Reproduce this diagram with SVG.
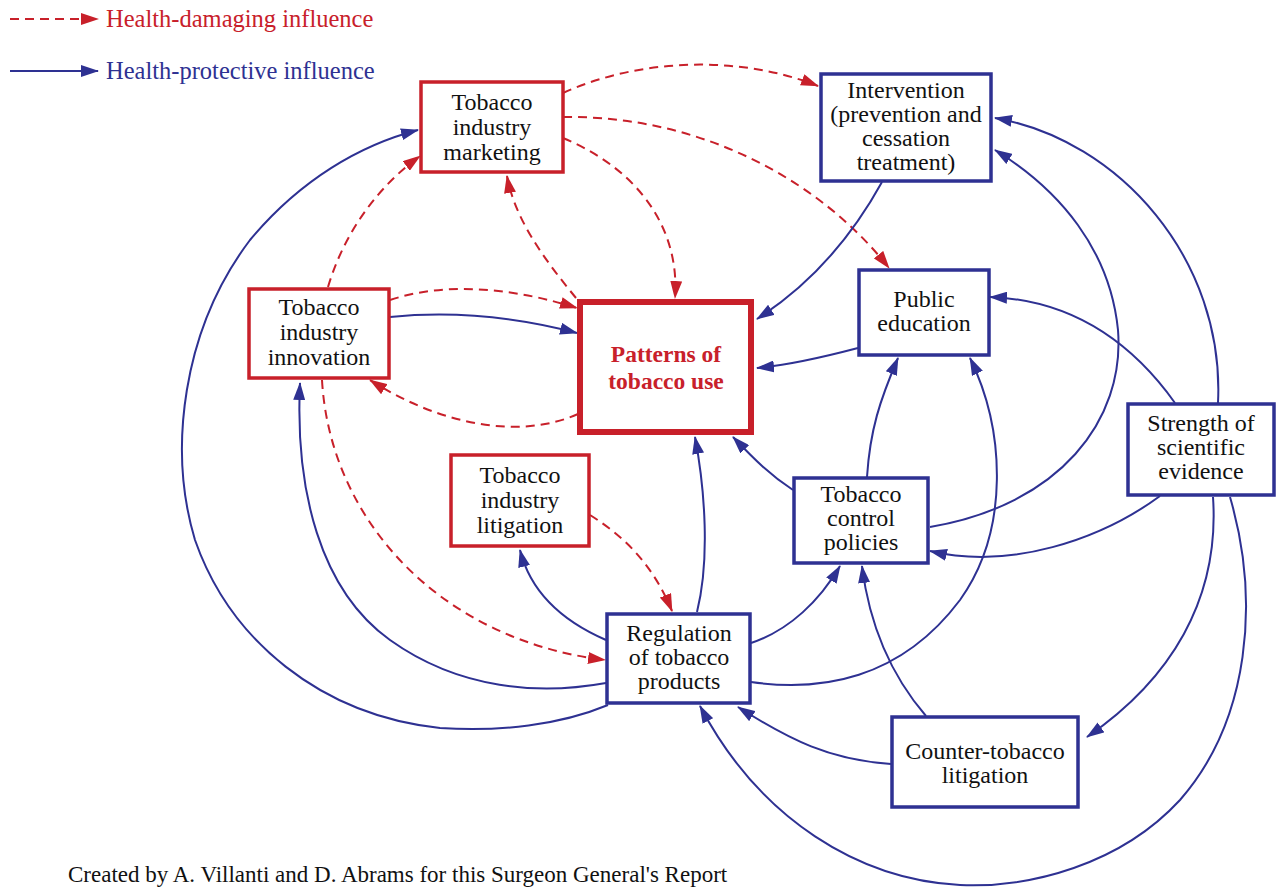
<svg xmlns="http://www.w3.org/2000/svg" width="1276" height="888" viewBox="0 0 1276 888">
<defs>
<style>
.txt{font-family:"Liberation Serif","DejaVu Serif",serif;font-size:24px;fill:#111;text-anchor:middle}
.leg{font-family:"Liberation Serif","DejaVu Serif",serif;font-size:24.5px}
.pat{font-family:"Liberation Serif","DejaVu Serif",serif;font-size:23.5px;font-weight:bold;fill:#c8202a;text-anchor:middle}
.rbox{fill:#fff;stroke:#c8202a;stroke-width:3.5}
.bbox{fill:#fff;stroke:#2e3192;stroke-width:3.5}
.red{fill:none;stroke:#c8202a;stroke-width:2;stroke-dasharray:9 6;marker-end:url(#ar)}
.blue{fill:none;stroke:#2e3192;stroke-width:2;marker-end:url(#ab)}
</style>
<marker id="ar" markerUnits="userSpaceOnUse" markerWidth="18" markerHeight="12" refX="17" refY="6" orient="auto">
<path d="M0,0 L18,6 L0,12 z" fill="#c8202a"/>
</marker>
<marker id="ab" markerUnits="userSpaceOnUse" markerWidth="18" markerHeight="12" refX="17" refY="6" orient="auto">
<path d="M0,0 L18,6 L0,12 z" fill="#2e3192"/>
</marker>
</defs>
<rect width="1276" height="888" fill="#fff"/>

<g id="legend">
<path class="red" d="M10,19 L98,19"/>
<text class="leg" x="106" y="27" fill="#c8202a">Health-damaging influence</text>
<path class="blue" d="M10,71 L98,71"/>
<text class="leg" x="106" y="79" fill="#2e3192">Health-protective influence</text>
</g>

<g id="connectors">
<path class="red" d="M563,93 C640,58 740,55 818,86"/>
<path class="red" d="M563,117 C700,115 820,180 889,268"/>
<path class="red" d="M563,138 C640,170 680,230 675,298"/>
<path class="red" d="M576,298 C545,260 515,220 507,176"/>
<path class="red" d="M328,287 C345,230 380,185 420,156"/>
<path class="red" d="M390,300 C450,280 520,290 577,308"/>
<path class="red" d="M578,414 C520,440 440,425 370,380"/>
<path class="red" d="M322,380 C330,520 440,640 605,660"/>
<path class="red" d="M590,515 C630,540 655,570 672,611"/>

<path class="blue" d="M390,317 C460,310 520,318 577,333"/>
<path class="blue" d="M882,182 C850,240 810,285 757,319"/>
<path class="blue" d="M858,348 C820,358 790,365 757,368"/>
<path class="blue" d="M793,490 C770,475 755,460 733,437"/>
<path class="blue" d="M697,612 C710,560 705,490 695,437"/>
<path class="blue" d="M606,640 C560,620 530,590 520,550"/>
<path class="blue" d="M751,643 C790,630 820,600 840,566"/>
<path class="blue" d="M867,477 C870,430 880,400 898,358"/>
<path class="blue" d="M930,527 C1060,505 1125,420 1118,330 C1110,250 1060,190 995,150"/>
<path class="blue" d="M1218,403 C1225,260 1120,140 995,118"/>
<path class="blue" d="M1175,403 C1130,340 1070,300 990,297"/>
<path class="blue" d="M1160,496 C1100,540 1010,570 930,551"/>
<path class="blue" d="M1213,497 C1220,600 1170,680 1087,737"/>
<path class="blue" d="M1230,497 C1260,600 1250,720 1180,800 C1120,865 1030,888 960,885 C860,880 760,820 700,706"/>
<path class="blue" d="M926,716 C895,680 870,630 862,566"/>
<path class="blue" d="M891,764 C830,760 790,740 738,707"/>
<path class="blue" d="M751,682 C820,692 900,680 960,600 C1010,530 1005,430 970,358"/>
<path class="blue" d="M606,683 C540,695 460,690 390,640 C320,590 295,490 300,383"/>
<path class="blue" d="M608,705 C560,725 500,732 440,728 C320,715 230,640 195,540 C168,450 182,330 250,240 C300,180 360,145 418,130"/>
</g>

<g id="marketing">
<rect class="rbox" x="421" y="82" width="142" height="90"/>
<text class="txt" x="492" y="110">Tobacco</text>
<text class="txt" x="492" y="135">industry</text>
<text class="txt" x="492" y="160">marketing</text>
</g>

<g id="intervention">
<rect class="bbox" x="821" y="74" width="170" height="107"/>
<text class="txt" x="906" y="98">Intervention</text>
<text class="txt" x="906" y="122">(prevention and</text>
<text class="txt" x="906" y="146">cessation</text>
<text class="txt" x="906" y="170">treatment)</text>
</g>

<g id="innovation">
<rect class="rbox" x="249" y="289" width="140" height="89"/>
<text class="txt" x="319" y="315">Tobacco</text>
<text class="txt" x="319" y="340">industry</text>
<text class="txt" x="319" y="365">innovation</text>
</g>

<g id="patterns">
<rect fill="#fff" stroke="#c8202a" stroke-width="6" x="580" y="302" width="171" height="130"/>
<text class="pat" x="666" y="362">Patterns of</text>
<text class="pat" x="666" y="389">tobacco use</text>
</g>

<g id="public-education">
<rect class="bbox" x="859" y="270" width="130" height="85"/>
<text class="txt" x="924" y="307">Public</text>
<text class="txt" x="924" y="331">education</text>
</g>

<g id="industry-litigation">
<rect class="rbox" x="451" y="455" width="138" height="91"/>
<text class="txt" x="520" y="483">Tobacco</text>
<text class="txt" x="520" y="508">industry</text>
<text class="txt" x="520" y="533">litigation</text>
</g>

<g id="control-policies">
<rect class="bbox" x="794" y="478" width="134" height="85"/>
<text class="txt" x="861" y="502">Tobacco</text>
<text class="txt" x="861" y="526">control</text>
<text class="txt" x="861" y="550">policies</text>
</g>

<g id="strength">
<rect class="bbox" x="1128" y="404" width="146" height="91"/>
<text class="txt" x="1201" y="431">Strength of</text>
<text class="txt" x="1201" y="455">scientific</text>
<text class="txt" x="1201" y="479">evidence</text>
</g>

<g id="regulation">
<rect class="bbox" x="607" y="614" width="143" height="89"/>
<text class="txt" x="679" y="641">Regulation</text>
<text class="txt" x="679" y="665">of tobacco</text>
<text class="txt" x="679" y="689">products</text>
</g>

<g id="counter-litigation">
<rect class="bbox" x="892" y="717" width="186" height="90"/>
<text class="txt" x="985" y="759">Counter-tobacco</text>
<text class="txt" x="985" y="783">litigation</text>
</g>

<text x="68" y="882" font-family="Liberation Serif, serif" font-size="23" fill="#111">Created by A. Villanti and D. Abrams for this Surgeon General's Report</text>
</svg>
